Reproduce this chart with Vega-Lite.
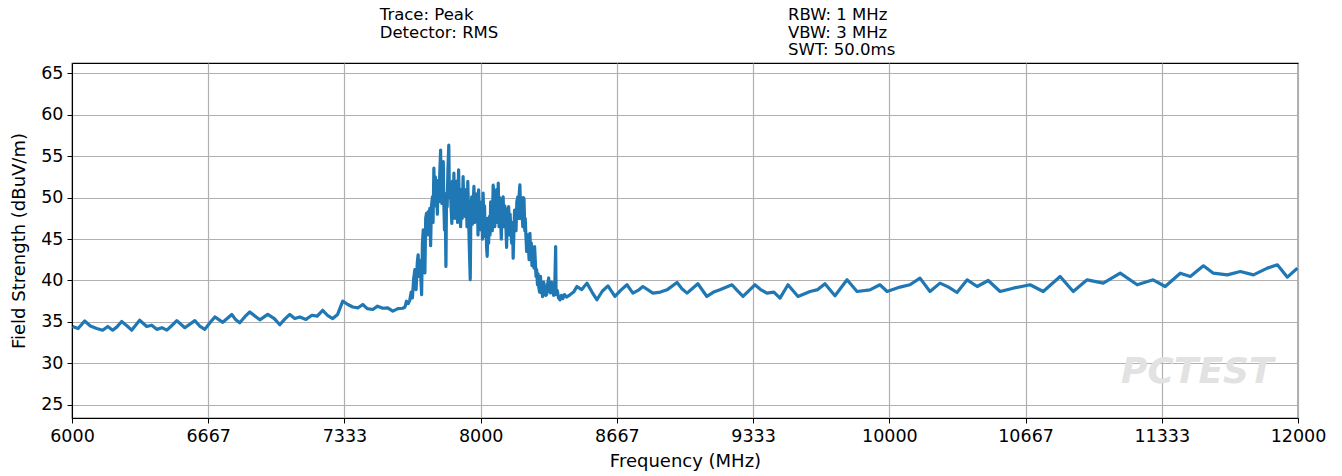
{
  "$schema": "https://vega.github.io/schema/vega-lite/v6.json",
  "autosize": "none",
  "width": 1226,
  "height": 355,
  "padding": {"left": 72, "top": 63, "right": 44, "bottom": 58},
  "background": "white",
  "config": {
    "font": "DejaVu Sans",
    "view": {"stroke": "black", "strokeWidth": 1.2},
    "axis": {
      "labelFont": "DejaVu Sans", "titleFont": "DejaVu Sans",
      "labelFontSize": 17.5, "titleFontSize": 18, "titleFontWeight": "normal",
      "labelColor": "black", "titleColor": "black",
      "domainColor": "black", "tickColor": "black", "tickSize": 5,
      "gridColor": "#b0b0b0", "gridWidth": 1.2, "gridOpacity": 1
    }
  },
  "datasets": {
    "trace": [
      {"f": 6003, "v": 34.45}, {"f": 6030, "v": 34.2}, {"f": 6062, "v": 35.1}, {"f": 6090, "v": 34.5}, {"f": 6121, "v": 34.2}, {"f": 6150, "v": 34.0}, {"f": 6175, "v": 34.45},
      {"f": 6199, "v": 34.0}, {"f": 6220, "v": 34.4}, {"f": 6243, "v": 35.05}, {"f": 6270, "v": 34.5}, {"f": 6292, "v": 34.0}, {"f": 6331, "v": 35.2},
      {"f": 6366, "v": 34.45}, {"f": 6390, "v": 34.6}, {"f": 6415, "v": 34.1}, {"f": 6440, "v": 34.3}, {"f": 6464, "v": 34.0}, {"f": 6490, "v": 34.6}, {"f": 6513, "v": 35.15},
      {"f": 6552, "v": 34.3}, {"f": 6601, "v": 35.15}, {"f": 6625, "v": 34.5}, {"f": 6650, "v": 34.1}, {"f": 6675, "v": 34.9}, {"f": 6699, "v": 35.6},
      {"f": 6738, "v": 34.95}, {"f": 6782, "v": 35.9}, {"f": 6800, "v": 35.3}, {"f": 6821, "v": 34.9}, {"f": 6845, "v": 35.6}, {"f": 6870, "v": 36.2},
      {"f": 6919, "v": 35.25}, {"f": 6958, "v": 35.9}, {"f": 6990, "v": 35.4}, {"f": 7017, "v": 34.65}, {"f": 7040, "v": 35.3}, {"f": 7066, "v": 35.9},
      {"f": 7090, "v": 35.4}, {"f": 7115, "v": 35.6}, {"f": 7145, "v": 35.3}, {"f": 7174, "v": 35.8}, {"f": 7200, "v": 35.7}, {"f": 7227, "v": 36.4}, {"f": 7250, "v": 35.8}, {"f": 7276, "v": 35.4},
      {"f": 7300, "v": 35.9}, {"f": 7325, "v": 37.5}, {"f": 7350, "v": 37.1}, {"f": 7374, "v": 36.8}, {"f": 7400, "v": 36.7}, {"f": 7423, "v": 37.1}, {"f": 7445, "v": 36.6}, {"f": 7472, "v": 36.5},
      {"f": 7495, "v": 36.9}, {"f": 7521, "v": 36.65}, {"f": 7545, "v": 36.7}, {"f": 7570, "v": 36.3}, {"f": 7595, "v": 36.6}, {"f": 7619, "v": 36.65},
      {"f": 7630, "v": 36.8}, {"f": 7637, "v": 37.5}, {"f": 7645, "v": 37.2}, {"f": 7653, "v": 37.6}, {"f": 7660, "v": 38.6}, {"f": 7666, "v": 37.9},
      {"f": 7672, "v": 40.2}, {"f": 7678, "v": 41.3}, {"f": 7684, "v": 38.9}, {"f": 7690, "v": 42.2}, {"f": 7694, "v": 43.1}, {"f": 7698, "v": 40.5},
      {"f": 7702, "v": 42.4}, {"f": 7706, "v": 40.9}, {"f": 7711, "v": 38.3}, {"f": 7715, "v": 44.5}, {"f": 7719, "v": 46.1}, {"f": 7723, "v": 44.0},
      {"f": 7727, "v": 40.9}, {"f": 7731, "v": 47.5}, {"f": 7735, "v": 48.1}, {"f": 7739, "v": 45.5}, {"f": 7743, "v": 48.3}, {"f": 7747, "v": 46.0},
      {"f": 7751, "v": 48.7}, {"f": 7755, "v": 44.2}, {"f": 7759, "v": 48.9}, {"f": 7764, "v": 50.1}, {"f": 7767, "v": 47.0}, {"f": 7771, "v": 53.55},
      {"f": 7775, "v": 49.0}, {"f": 7778, "v": 52.5}, {"f": 7781, "v": 49.7}, {"f": 7785, "v": 51.0}, {"f": 7788, "v": 48.0}, {"f": 7792, "v": 52.1},
      {"f": 7796, "v": 49.5}, {"f": 7800, "v": 53.0}, {"f": 7804, "v": 55.75}, {"f": 7807, "v": 50.5}, {"f": 7810, "v": 49.3}, {"f": 7814, "v": 52.5},
      {"f": 7817, "v": 54.35}, {"f": 7820, "v": 49.0}, {"f": 7823, "v": 46.1}, {"f": 7826, "v": 50.5}, {"f": 7830, "v": 41.7}, {"f": 7833, "v": 50.5},
      {"f": 7836, "v": 48.9}, {"f": 7840, "v": 53.5}, {"f": 7844, "v": 56.35}, {"f": 7847, "v": 50.0}, {"f": 7851, "v": 51.75}, {"f": 7855, "v": 49.0},
      {"f": 7859, "v": 46.9}, {"f": 7862, "v": 52.0}, {"f": 7866, "v": 48.5}, {"f": 7869, "v": 52.95}, {"f": 7873, "v": 47.5}, {"f": 7876, "v": 51.5},
      {"f": 7879, "v": 48.9}, {"f": 7883, "v": 52.0}, {"f": 7887, "v": 47.0}, {"f": 7892, "v": 53.35}, {"f": 7896, "v": 49.0}, {"f": 7899, "v": 51.0},
      {"f": 7902, "v": 46.5}, {"f": 7906, "v": 50.5}, {"f": 7910, "v": 47.5}, {"f": 7914, "v": 52.55}, {"f": 7918, "v": 48.5}, {"f": 7922, "v": 51.0},
      {"f": 7926, "v": 47.7}, {"f": 7930, "v": 50.5}, {"f": 7933, "v": 46.5}, {"f": 7937, "v": 51.95}, {"f": 7941, "v": 47.5}, {"f": 7944, "v": 44.5},
      {"f": 7949, "v": 40.1}, {"f": 7952, "v": 48.0}, {"f": 7956, "v": 50.1}, {"f": 7960, "v": 46.8}, {"f": 7964, "v": 49.5}, {"f": 7967, "v": 51.35},
      {"f": 7971, "v": 47.0}, {"f": 7975, "v": 50.5}, {"f": 7980, "v": 47.7}, {"f": 7984, "v": 50.0}, {"f": 7987, "v": 45.5}, {"f": 7990, "v": 50.95},
      {"f": 7994, "v": 47.0}, {"f": 7998, "v": 49.5}, {"f": 8002, "v": 46.1}, {"f": 8006, "v": 49.0}, {"f": 8009, "v": 45.0}, {"f": 8012, "v": 50.55},
      {"f": 8016, "v": 47.0}, {"f": 8019, "v": 49.0}, {"f": 8022, "v": 45.3}, {"f": 8026, "v": 47.5}, {"f": 8029, "v": 44.0}, {"f": 8032, "v": 42.9},
      {"f": 8036, "v": 47.5}, {"f": 8039, "v": 44.5}, {"f": 8042, "v": 47.7}, {"f": 8046, "v": 45.5}, {"f": 8049, "v": 49.5}, {"f": 8053, "v": 48.9},
      {"f": 8057, "v": 46.0}, {"f": 8061, "v": 51.5}, {"f": 8065, "v": 50.55}, {"f": 8069, "v": 46.5}, {"f": 8072, "v": 49.5}, {"f": 8075, "v": 48.1},
      {"f": 8079, "v": 51.0}, {"f": 8082, "v": 47.0}, {"f": 8086, "v": 51.75}, {"f": 8090, "v": 46.5}, {"f": 8093, "v": 50.0}, {"f": 8097, "v": 47.7},
      {"f": 8101, "v": 45.0}, {"f": 8105, "v": 49.5}, {"f": 8110, "v": 50.1}, {"f": 8114, "v": 46.5}, {"f": 8118, "v": 49.0}, {"f": 8123, "v": 46.9},
      {"f": 8127, "v": 44.0}, {"f": 8131, "v": 48.5}, {"f": 8137, "v": 48.9}, {"f": 8141, "v": 45.5}, {"f": 8144, "v": 48.0}, {"f": 8148, "v": 46.1},
      {"f": 8152, "v": 44.5}, {"f": 8156, "v": 47.0}, {"f": 8159, "v": 42.7}, {"f": 8163, "v": 46.0}, {"f": 8166, "v": 48.5}, {"f": 8169, "v": 48.1},
      {"f": 8173, "v": 46.0}, {"f": 8177, "v": 49.5}, {"f": 8182, "v": 50.1}, {"f": 8186, "v": 47.5}, {"f": 8189, "v": 50.5}, {"f": 8192, "v": 51.55},
      {"f": 8196, "v": 47.5}, {"f": 8199, "v": 50.0}, {"f": 8202, "v": 48.5}, {"f": 8206, "v": 46.5}, {"f": 8209, "v": 50.0}, {"f": 8212, "v": 49.9},
      {"f": 8216, "v": 46.0}, {"f": 8218, "v": 47.5}, {"f": 8221, "v": 45.7}, {"f": 8225, "v": 43.5}, {"f": 8229, "v": 45.5}, {"f": 8233, "v": 44.5},
      {"f": 8237, "v": 42.5}, {"f": 8241, "v": 45.7}, {"f": 8244, "v": 43.5}, {"f": 8248, "v": 44.5}, {"f": 8251, "v": 41.8}, {"f": 8254, "v": 42.9},
      {"f": 8258, "v": 44.0}, {"f": 8261, "v": 41.5}, {"f": 8264, "v": 44.1}, {"f": 8268, "v": 42.0}, {"f": 8271, "v": 40.5}, {"f": 8274, "v": 41.3},
      {"f": 8278, "v": 39.5}, {"f": 8281, "v": 40.8}, {"f": 8284, "v": 39.3}, {"f": 8288, "v": 38.6}, {"f": 8293, "v": 40.5}, {"f": 8297, "v": 38.5},
      {"f": 8300, "v": 39.5}, {"f": 8303, "v": 38.05}, {"f": 8308, "v": 39.8}, {"f": 8313, "v": 39.3}, {"f": 8318, "v": 38.2}, {"f": 8323, "v": 38.3},
      {"f": 8328, "v": 39.6}, {"f": 8333, "v": 40.3}, {"f": 8337, "v": 38.7}, {"f": 8342, "v": 38.5}, {"f": 8347, "v": 39.8}, {"f": 8352, "v": 39.3},
      {"f": 8357, "v": 38.2}, {"f": 8362, "v": 38.5}, {"f": 8367, "v": 44.1}, {"f": 8369, "v": 38.3}, {"f": 8375, "v": 38.8}, {"f": 8381, "v": 37.9},
      {"f": 8388, "v": 37.65}, {"f": 8395, "v": 38.2}, {"f": 8402, "v": 37.8}, {"f": 8410, "v": 38.3}, {"f": 8420, "v": 38.0}, {"f": 8437, "v": 38.27},
      {"f": 8455, "v": 38.6}, {"f": 8471, "v": 39.27}, {"f": 8495, "v": 38.9}, {"f": 8520, "v": 39.68}, {"f": 8545, "v": 38.6}, {"f": 8569, "v": 37.67}, {"f": 8595, "v": 38.7}, {"f": 8623, "v": 39.35},
      {"f": 8657, "v": 38.07}, {"f": 8685, "v": 38.8}, {"f": 8716, "v": 39.48}, {"f": 8745, "v": 38.47}, {"f": 8770, "v": 38.8}, {"f": 8794, "v": 39.27},
      {"f": 8843, "v": 38.47}, {"f": 8880, "v": 38.6}, {"f": 8912, "v": 38.87}, {"f": 8961, "v": 39.75}, {"f": 8985, "v": 39.0}, {"f": 9010, "v": 38.47},
      {"f": 9063, "v": 39.6}, {"f": 9107, "v": 38.07}, {"f": 9140, "v": 38.6}, {"f": 9171, "v": 38.87}, {"f": 9230, "v": 39.48}, {"f": 9255, "v": 38.8},
      {"f": 9284, "v": 38.07}, {"f": 9342, "v": 39.48}, {"f": 9370, "v": 38.9}, {"f": 9401, "v": 38.47}, {"f": 9435, "v": 38.6}, {"f": 9465, "v": 37.87},
      {"f": 9504, "v": 39.48}, {"f": 9553, "v": 38.07}, {"f": 9612, "v": 38.67}, {"f": 9650, "v": 38.9}, {"f": 9685, "v": 39.6},
      {"f": 9734, "v": 38.15}, {"f": 9793, "v": 40.08}, {"f": 9842, "v": 38.67}, {"f": 9905, "v": 38.87},
      {"f": 9954, "v": 39.48}, {"f": 9989, "v": 38.67}, {"f": 10052, "v": 39.2}, {"f": 10101, "v": 39.48},
      {"f": 10150, "v": 40.28}, {"f": 10199, "v": 38.67}, {"f": 10248, "v": 39.68}, {"f": 10290, "v": 39.2}, {"f": 10331, "v": 38.55},
      {"f": 10381, "v": 40.08}, {"f": 10430, "v": 39.27}, {"f": 10484, "v": 40.0}, {"f": 10542, "v": 38.67},
      {"f": 10606, "v": 39.07}, {"f": 10689, "v": 39.48}, {"f": 10753, "v": 38.67}, {"f": 10836, "v": 40.48},
      {"f": 10900, "v": 38.67}, {"f": 10968, "v": 40.08}, {"f": 11047, "v": 39.68}, {"f": 11130, "v": 40.88},
      {"f": 11213, "v": 39.48}, {"f": 11291, "v": 40.08}, {"f": 11350, "v": 39.27}, {"f": 11424, "v": 40.88},
      {"f": 11473, "v": 40.48}, {"f": 11537, "v": 41.77}, {"f": 11586, "v": 40.88}, {"f": 11654, "v": 40.68},
      {"f": 11718, "v": 41.08}, {"f": 11782, "v": 40.68}, {"f": 11850, "v": 41.49}, {"f": 11899, "v": 41.89},
      {"f": 11948, "v": 40.4}, {"f": 11997, "v": 41.49}
    ]
  },
  "layer": [
    {
      "data": {"name": "trace"},
      "mark": {"type": "line", "color": "#1f77b4", "strokeWidth": 3.2, "strokeJoin": "round", "clip": true},
      "encoding": {
        "x": {
          "field": "f", "type": "quantitative",
          "scale": {"domain": [6000, 12000], "nice": false, "zero": false},
          "axis": {
            "title": "Frequency (MHz)",
            "values": [6000, 6666.667, 7333.333, 8000, 8666.667, 9333.333, 10000, 10666.667, 11333.333, 12000],
            "format": ".0f", "labelPadding": 4, "titlePadding": 8, "labelFlush": false
          }
        },
        "y": {
          "field": "v", "type": "quantitative",
          "scale": {"domain": [23.4, 66.25], "nice": false, "zero": false},
          "axis": {
            "title": "Field Strength (dBuV/m)",
            "values": [25, 30, 35, 40, 45, 50, 55, 60, 65],
            "labelPadding": 4, "titlePadding": 12
          }
        }
      }
    },
    {
      "data": {"values": [{"t": "PCTEST"}]},
      "mark": {"type": "text", "font": "DejaVu Sans", "fontStyle": "italic", "fontWeight": "bold", "fontSize": 36, "color": "#e2e2e2", "align": "center", "baseline": "middle"},
      "encoding": {
        "x": {"datum": 11507, "type": "quantitative"},
        "y": {"datum": 28.9, "type": "quantitative"},
        "text": {"field": "t"}
      }
    },
    {
      "data": {"values": [{"t": "Trace: Peak\nDetector: RMS"}]},
      "mark": {"type": "text", "font": "DejaVu Sans", "fontSize": 16.5, "color": "black", "align": "left", "baseline": "top", "lineBreak": "\n", "lineHeight": 17.5, "clip": false},
      "encoding": {
        "x": {"datum": 7506, "type": "quantitative"},
        "y": {"datum": 73.0, "type": "quantitative"},
        "text": {"field": "t"}
      }
    },
    {
      "data": {"values": [{"t": "RBW: 1 MHz\nVBW: 3 MHz\nSWT: 50.0ms"}]},
      "mark": {"type": "text", "font": "DejaVu Sans", "fontSize": 16.5, "color": "black", "align": "left", "baseline": "top", "lineBreak": "\n", "lineHeight": 17.5, "clip": false},
      "encoding": {
        "x": {"datum": 9504, "type": "quantitative"},
        "y": {"datum": 73.0, "type": "quantitative"},
        "text": {"field": "t"}
      }
    }
  ]
}
